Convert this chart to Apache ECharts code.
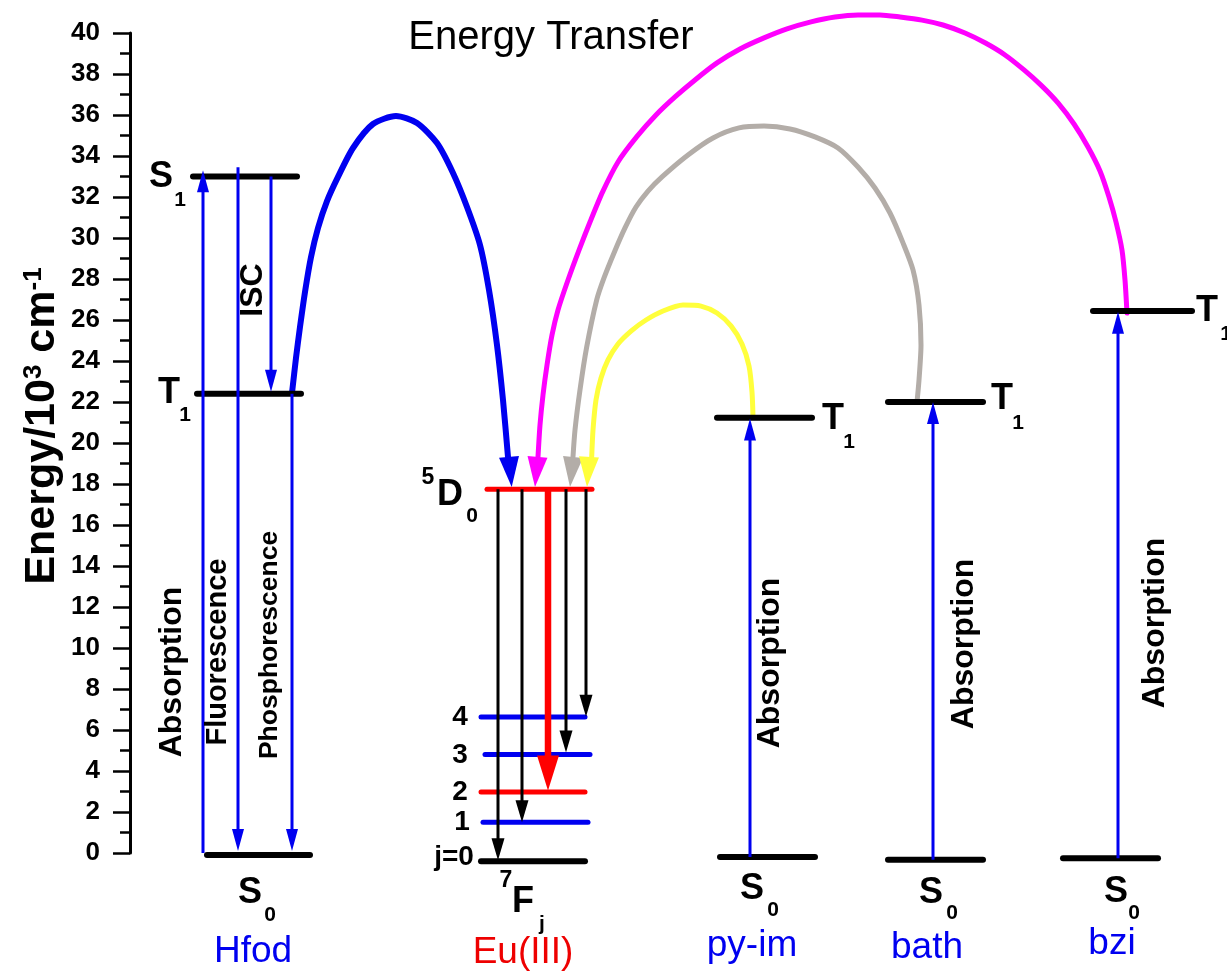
<!DOCTYPE html>
<html><head><meta charset="utf-8">
<script src="https://cdn.jsdelivr.net/npm/echarts@6/dist/echarts.min.js"></script>
<style>html,body{margin:0;padding:0;background:#fff}#c{width:1227px;height:978px}</style>
</head><body><div id="c"></div>
<script>
// ---- data (energies in 10^3 cm^-1, horizontal positions in diagram units) ----
const yTicks = [0, 40, 2];
// levels: [xStart, xEnd, energy, kind]
const levels = [
  [193, 297, 33.0, 'k'],   // Hfod S1
  [197, 301, 22.4, 'k'],   // Hfod T1
  [207, 310, -0.1, 'k'],   // Hfod S0
  [487, 592, 17.75, 'r'],  // Eu 5D0
  [481, 585, 6.63, 'b'],   // 7F4
  [485, 590, 4.8, 'b'],    // 7F3
  [481, 585, 2.97, 'r'],   // 7F2
  [483, 588, 1.5, 'b'],    // 7F1
  [481, 585, -0.4, 'k'],   // 7F0
  [717, 812, 21.23, 'k'],  // py-im T1
  [720, 815, -0.2, 'k'],   // py-im S0
  [888, 983, 22.0, 'k'],   // bath T1
  [888, 983, -0.33, 'k'],  // bath S0
  [1093, 1192, 26.44, 'k'],// bzi T1
  [1063, 1158, -0.25, 'k'] // bzi S0
];
// straight transitions: [x, fromE, toE, kind]
const arrows = [
  [203, 0.0, 33.3, 'b'],
  [238, 33.45, 0.1, 'b'],
  [271, 33.0, 22.5, 'b'],
  [292, 22.4, 0.1, 'b'],
  [498, 17.75, -0.35, 'k'],
  [522, 17.75, 1.5, 'k'],
  [548, 17.75, 3.05, 'R'],
  [566, 17.75, 4.9, 'k'],
  [586, 17.75, 6.65, 'k'],
  [750, -0.2, 21.2, 'b'],
  [933, -0.33, 22.0, 'b'],
  [1118, -0.25, 26.4, 'b']
];
// energy-transfer curves (read along each arc)
const curveHfod = [[292,22.44],[296,24.15],[300,25.66],[305,27.37],[311,29.07],[318,30.49],[327,31.80],[338,32.98],[353,34.39],[373,35.56],[396,35.95],[417,35.61],[437,34.63],[453,33.17],[467,31.51],[480,29.66],[489,27.46],[497,24.78],[503,22.10],[508,19.32]];
const curveBzi = [[1127,26.34],[1125,27.95],[1122,29.41],[1116,30.78],[1109,32.00],[1100,33.27],[1088,34.44],[1074,35.56],[1058,36.59],[1042,37.41],[1024,38.20],[1005,38.93],[985.5,39.51],[965,40.00],[943,40.39],[922,40.63],[900,40.78],[880,40.88],[858,40.88],[835,40.78],[811,40.54],[787,40.20],[764,39.76],[740,39.22],[717,38.54],[695,37.71],[675,36.88],[656,36.00],[636.6,34.93],[618,33.71],[602.5,32.24],[590,30.78],[579,29.41],[568,27.95],[558,26.49],[552,25.27],[547,23.80],[543,22.34],[540,20.88],[538,19.32]];
const curveBath = [[917,22.0],[919,23.07],[921,24.78],[919,26.73],[913,28.44],[903,29.76],[890,31.22],[875,32.44],[858,33.46],[838,34.39],[815,34.93],[790,35.32],[764,35.46],[739,35.37],[713,34.88],[688,34.05],[662,32.98],[648,32.29],[636,31.51],[625,30.49],[614,29.27],[604,28.05],[596.7,26.98],[586.7,24.68],[580,22.59],[575,20.63],[573,19.32]];
const curvePyim = [[753,21.27],[752,22.49],[749,23.76],[742,24.83],[731,25.71],[717,26.34],[701,26.68],[683,26.73],[663,26.44],[646,26.0],[631,25.46],[618,24.83],[608,24.05],[601,23.17],[596,22.10],[593,20.63],[591.7,19.32]];
// curve arrowheads: [baseX, baseE, tipX, tipE]
const curveHeads = [[509,19.32,511.7,17.85],[537.5,19.32,535,17.85],[573,19.32,570,17.85],[589,19.32,587,17.85]];
// labels: [text, x, E]
const stateLetters = [['S',161,32.98],['T',169,22.44],['S',250,-1.95],['D',450,17.46],['F',523,-2.39],
  ['T',833,21.17],['T',1002,22.15],['T',1207,26.44],['S',752,-1.76],['S',931,-1.95],['S',1116,-1.90]];
const subscripts = [['1',180,31.85],['1',185,21.36],['0',270,-3.05],['0',472,16.45],['j',542,-3.46],
  ['1',849,20.05],['1',1018,20.97],['1',1226,25.33],['0',773,-2.80],['0',952,-2.95],['0',1134,-2.95]];
const superscripts = [['5',428,18.29],['7',506,-1.37]];
const jLabels = [['4',460,6.63],['3',460,4.78],['2',460,2.98],['1',462,1.51],['j=0',454,-0.22]];
const ligandNames = [['Hfod',253,-4.83],['py-im',752,-4.54],['bath',927,-4.63],['bzi',1112,-4.44]];
const ionNames = [['Eu(III)',523,-4.88]];
const absLabels = [['Absorption',172,8.83],['Absorption',770,9.27],['Absorption',964,10.20],['Absorption',1155,11.22]];
const fluoLabels = [['Fluorescence',218,9.80]];
const phosLabels = [['Phosphorescence',270,10.15]];
const iscLabels = [['ISC',253,27.46]];
const titleLabels = [['Energy Transfer',551,39.76]];

// ---- styles ----
const FONT = '"Liberation Sans", Arial, Helvetica, sans-serif';
const BLUE = '#0000f0', RED = '#ff0000', BLACK = '#000000';
const levelColor = {k: BLACK, b: BLUE, r: RED};
const arrowStyle = {
  b: {color: BLUE, width: 3, head: 22, hw: 6},
  k: {color: BLACK, width: 3, head: 22, hw: 6.5},
  R: {color: RED, width: 6.5, head: 35, hw: 11}
};

function textSeries(items, o) {
  return {
    type: 'custom', coordinateSystem: 'cartesian2d', silent: true, z: 10, clip: false,
    data: items.map(d => [d[1], d[2]]),
    renderItem: (params, api) => {
      const p = api.coord([api.value(0), api.value(1)]);
      return {
        type: 'text', x: p[0], y: p[1], rotation: o.rotation || 0,
        style: {
          text: items[params.dataIndex][0], fill: o.color || BLACK,
          fontSize: o.size, fontWeight: o.weight || 'bold', fontFamily: FONT,
          align: 'center', verticalAlign: 'middle'
        }
      };
    }
  };
}
function curveSeries(data, color, width) {
  return {
    type: 'line', data: data, smooth: 0.25, showSymbol: false, symbol: 'none', clip: false, z: 2,
    lineStyle: {color: color, width: width, cap: 'round', join: 'round'}, silent: true
  };
}
const curveColors = [BLUE, '#ff00ff', '#b3ada8', '#ffff3c'];

const chart = echarts.init(document.getElementById('c'));
chart.setOption({
  animation: false,
  backgroundColor: '#ffffff',
  grid: {left: 130, right: 0, top: 33, bottom: 125},
  xAxis: {type: 'value', min: 130, max: 1227, show: false},
  yAxis: {
    type: 'value', min: yTicks[0], max: yTicks[1], interval: yTicks[2],
    axisLine: {show: true, lineStyle: {color: BLACK, width: 3}},
    axisTick: {show: true, length: 17, lineStyle: {color: BLACK, width: 2.5}},
    minorTick: {show: true, splitNumber: 2, length: 10, lineStyle: {color: BLACK, width: 2.5}},
    splitLine: {show: false}, minorSplitLine: {show: false},
    axisLabel: {margin: 30, fontSize: 26, fontWeight: 'bold', color: BLACK, fontFamily: FONT},
    name: '{a|Energy/10}{s|3}{a| cm}{s|-1}',
    nameLocation: 'middle', nameGap: 66, nameMoveOverlap: false,
    nameTextStyle: {
      color: BLACK, fontFamily: FONT, fontWeight: 'bold', fontSize: 43,
      padding: [0, 0, 0, 34],
      rich: {
        a: {fontSize: 43, fontWeight: 'bold', fontFamily: FONT, color: BLACK},
        s: {fontSize: 26, fontWeight: 'bold', fontFamily: FONT, color: BLACK, verticalAlign: 'top'}
      }
    }
  },
  series: [
    curveSeries(curveHfod, curveColors[0], 6),
    curveSeries(curveBzi, curveColors[1], 5),
    curveSeries(curveBath, curveColors[2], 5),
    curveSeries(curvePyim, curveColors[3], 5),
    {
      type: 'custom', coordinateSystem: 'cartesian2d', z: 3, silent: true,
      data: levels.map(l => [l[0], l[1], l[2]]),
      encode: {x: [0, 1], y: 2},
      renderItem: (params, api) => {
        const kind = levels[params.dataIndex][3];
        const p1 = api.coord([api.value(0), api.value(2)]);
        const p2 = api.coord([api.value(1), api.value(2)]);
        return {type: 'line', shape: {x1: p1[0], y1: p1[1], x2: p2[0], y2: p2[1]},
          style: {stroke: levelColor[kind], lineWidth: kind === 'k' ? 6 : 5, lineCap: 'round'}};
      }
    },
    {
      type: 'custom', coordinateSystem: 'cartesian2d', z: 4, silent: true,
      data: arrows.map(a => [a[0], a[1], a[2]]),
      encode: {x: 0, y: [1, 2]},
      renderItem: (params, api) => {
        const st = arrowStyle[arrows[params.dataIndex][3]];
        const p0 = api.coord([api.value(0), api.value(1)]);
        const p1 = api.coord([api.value(0), api.value(2)]);
        const dir = Math.sign(p1[1] - p0[1]);
        const baseY = p1[1] - dir * st.head;
        return {type: 'group', children: [
          {type: 'line', shape: {x1: p0[0], y1: p0[1], x2: p1[0], y2: baseY + dir * 2},
            style: {stroke: st.color, lineWidth: st.width}},
          {type: 'polygon', shape: {points: [[p1[0] - st.hw, baseY], [p1[0] + st.hw, baseY], [p1[0], p1[1]]]},
            style: {fill: st.color}}
        ]};
      }
    },
    {
      type: 'custom', coordinateSystem: 'cartesian2d', z: 5, silent: true,
      data: curveHeads,
      encode: {x: [0, 2], y: [1, 3]},
      renderItem: (params, api) => {
        const b = api.coord([api.value(0), api.value(1)]);
        const t = api.coord([api.value(2), api.value(3)]);
        const vx = t[0] - b[0], vy = t[1] - b[1];
        const L = Math.sqrt(vx * vx + vy * vy) || 1;
        const nx = -vy / L * 10, ny = vx / L * 10;
        return {type: 'polygon', shape: {points: [[b[0] + nx, b[1] + ny], [b[0] - nx, b[1] - ny], [t[0], t[1]]]},
          style: {fill: curveColors[params.dataIndex]}};
      }
    },
    textSeries(stateLetters, {size: 36}),
    textSeries(subscripts, {size: 21}),
    textSeries(superscripts, {size: 23}),
    textSeries(jLabels, {size: 28}),
    textSeries(ligandNames, {size: 37, weight: 'normal', color: BLUE}),
    textSeries(ionNames, {size: 37, weight: 'normal', color: '#ee0000'}),
    textSeries(absLabels, {size: 32, rotation: Math.PI / 2}),
    textSeries(fluoLabels, {size: 29, rotation: Math.PI / 2}),
    textSeries(phosLabels, {size: 26.5, rotation: Math.PI / 2}),
    textSeries(iscLabels, {size: 32, rotation: Math.PI / 2}),
    textSeries(titleLabels, {size: 40, weight: 'normal'})
  ]
});
</script></body></html>
